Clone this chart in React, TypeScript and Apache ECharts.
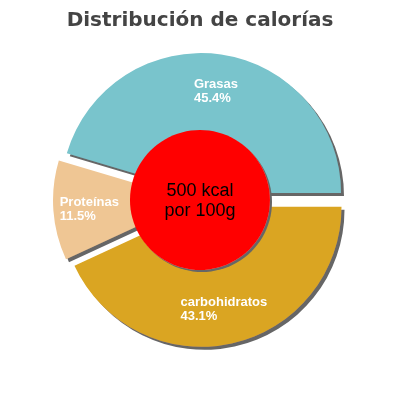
import { useEffect, useRef } from 'react';
import * as echarts from 'echarts';

const titleText = 'Distribución de calorías';
const categories = ['Grasas', 'Proteínas', 'carbohidratos'];
const percents = [45.4, 11.5, 43.1];
const centerLines = ['500 kcal', 'por 100g'];

const sliceColors = ['#79C4CC', '#EFC694', '#DAA520'];

export default function App() {
  const chartRef = useRef<HTMLDivElement>(null);

  useEffect(() => {
    if (!chartRef.current) return;
    const chart = echarts.init(chartRef.current, null, { renderer: 'svg' });

    const shadow = {
      shadowColor: '#666',
      shadowBlur: 0,
      shadowOffsetX: 3,
      shadowOffsetY: 3,
    };

    const option: echarts.EChartsOption = {
      animation: false,
      title: {
        text: titleText,
        left: 'center',
        top: 4,
        textStyle: {
          color: '#444',
          fontSize: 20,
          fontWeight: 'bold',
          fontFamily: 'DejaVu Sans',
        },
      },
      series: [
        {
          type: 'pie',
          center: [200, 200],
          radius: [62, 140],
          startAngle: 0,
          clockwise: false,
          selectedMode: 'multiple',
          selectedOffset: 7,
          silent: true,
          avoidLabelOverlap: false,
          emphasis: { disabled: true },
          itemStyle: { borderWidth: 0, ...shadow },
          label: {
            show: true,
            position: 'inside',
            formatter: (p: any) => `{n|${p.name}}\n{n|${Number(p.value).toFixed(1)}%}`,
            rich: {
              n: {
                color: '#fff',
                fontSize: 13,
                fontWeight: 'bold',
                fontFamily: 'Liberation Sans, Arial, sans-serif',
                lineHeight: 14,
                align: 'left',
              },
            },
          },
          labelLine: { show: false },
          data: categories.map((name, i) => ({
            name,
            value: percents[i],
            selected: true,
            itemStyle: { color: sliceColors[i] },
          })),
        },
        {
          type: 'pie',
          center: [200, 200],
          radius: [0, 70],
          silent: true,
          emphasis: { disabled: true },
          itemStyle: { color: '#ff0000', borderWidth: 0, ...shadow, shadowOffsetX: 2, shadowOffsetY: 2 },
          label: {
            show: true,
            position: 'center',
            formatter: centerLines.join('\n'),
            color: '#000',
            fontSize: 18,
            lineHeight: 20,
            fontFamily: 'Liberation Sans, Arial, sans-serif',
          },
          labelLine: { show: false },
          data: [{ name: 'centro', value: 1 }],
        },
      ],
    };

    chart.setOption(option);
    return () => {
      chart.dispose();
    };
  }, []);

  return (
    <div
      ref={chartRef}
      style={{ position: 'fixed', left: 0, top: 0, width: 400, height: 400 }}
    />
  );
}
